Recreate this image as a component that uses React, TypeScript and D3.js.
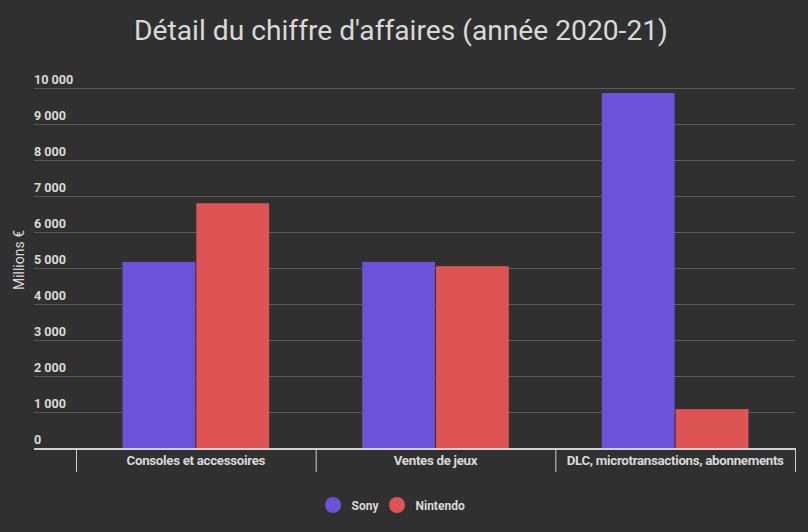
import * as d3 from "d3";
import React from "react";

const categories = [
  "Consoles et accessoires",
  "Ventes de jeux",
  "DLC, microtransactions, abonnements",
];
const seriesNames = ["Sony", "Nintendo"];
const sonyValues = [5170, 5170, 9860];
const nintendoValues = [6800, 5050, 1080];
const yTicks = [0, 1000, 2000, 3000, 4000, 5000, 6000, 7000, 8000, 9000, 10000];
const colors = ["#6c52d9", "#de5455"];

export default function App() {
  const ref = React.useRef<SVGSVGElement>(null);

  React.useEffect(() => {
    if (!ref.current) return;
    const svg = d3.select(ref.current);
    svg.selectAll("*").remove();

    const W = 808;
    const H = 532;
    const gridLeft = 34;
    const left = 76;
    const right = 795;
    const top = 88;
    const bottom = 448;
    const textColor = "#d9d9d9";
    const font = "Roboto, sans-serif";

    svg.append("rect").attr("width", W).attr("height", H).attr("fill", "#303030");

    // titre
    svg
      .append("text")
      .attr("x", 401)
      .attr("y", 40)
      .attr("text-anchor", "middle")
      .attr("font-family", font)
      .attr("font-size", 28.2)
      .attr("fill", textColor)
      .text("Détail du chiffre d'affaires (année 2020-21)");

    const y = d3.scaleLinear().domain([0, 10000]).range([bottom, top]);
    const x0 = d3.scaleBand().domain(categories).range([left, right]).paddingInner(0).paddingOuter(0);
    const x1 = d3
      .scaleBand()
      .domain(seriesNames)
      .range([0, x0.bandwidth()])
      .paddingOuter(0.63)
      .paddingInner(0.014);

    const fmt = (v: number) => d3.format(",")(v).replace(/,/g, " ");

    // grille
    const grid = svg.append("g");
    yTicks.forEach((t) => {
      if (t > 0) {
        grid
          .append("line")
          .attr("x1", gridLeft)
          .attr("x2", right)
          .attr("y1", y(t) + 0.5)
          .attr("y2", y(t) + 0.5)
          .attr("stroke", "#5a5a5a")
          .attr("stroke-width", 1);
      }
      grid
        .append("text")
        .attr("x", gridLeft)
        .attr("y", y(t) - 4)
        .attr("font-family", font)
        .attr("font-size", 12.6)
        .attr("font-weight", "bold")
        .attr("fill", textColor)
        .text(fmt(t));
    });

    // barres
    const data = categories.map((c, i) => ({
      cat: c,
      vals: [sonyValues[i], nintendoValues[i]],
    }));
    const groups = svg
      .append("g")
      .selectAll("g")
      .data(data)
      .enter()
      .append("g")
      .attr("transform", (d) => `translate(${x0(d.cat)},0)`);
    groups
      .selectAll("rect")
      .data((d) => d.vals.map((v, i) => ({ name: seriesNames[i], v, i })))
      .enter()
      .append("rect")
      .attr("x", (d) => x1(d.name) || 0)
      .attr("y", (d) => y(d.v))
      .attr("width", x1.bandwidth())
      .attr("height", (d) => bottom - y(d.v))
      .attr("fill", (d) => colors[d.i]);

    // axe X
    svg
      .append("line")
      .attr("x1", gridLeft)
      .attr("x2", right)
      .attr("y1", bottom + 1)
      .attr("y2", bottom + 1)
      .attr("stroke", "#d0d0d0")
      .attr("stroke-width", 2);
    const edges = [...categories.map((c) => x0(c) || 0), right];
    edges.forEach((e) => {
      svg
        .append("line")
        .attr("x1", e + 0.5)
        .attr("x2", e + 0.5)
        .attr("y1", bottom)
        .attr("y2", bottom + 24)
        .attr("stroke", "#d0d0d0")
        .attr("stroke-width", 1);
    });
    categories.forEach((c) => {
      svg
        .append("text")
        .attr("x", (x0(c) || 0) + x0.bandwidth() / 2)
        .attr("y", bottom + 17)
        .attr("text-anchor", "middle")
        .attr("font-family", font)
        .attr("font-size", 13.3)
        .attr("font-weight", "bold")
        .attr("letter-spacing", -0.3)
        .attr("fill", textColor)
        .text(c);
    });

    // titre axe Y
    svg
      .append("text")
      .attr("transform", `translate(24,260) rotate(-90)`)
      .attr("text-anchor", "middle")
      .attr("font-family", font)
      .attr("font-size", 14)
      .attr("fill", textColor)
      .text("Millions €");

    // légende
    const legendX = [333, 397];
    seriesNames.forEach((n, i) => {
      svg
        .append("circle")
        .attr("cx", legendX[i])
        .attr("cy", 505)
        .attr("r", 8)
        .attr("fill", colors[i]);
      svg
        .append("text")
        .attr("x", legendX[i] + 18.5)
        .attr("y", 509.5)
        .attr("font-family", font)
        .attr("font-size", 12)
        .attr("font-weight", "bold")
        .attr("fill", textColor)
        .text(n);
    });
  }, []);

  return (
    <svg
      ref={ref}
      width={808}
      height={532}
      style={{ position: "absolute", left: 0, top: 0, display: "block" }}
    />
  );
}
